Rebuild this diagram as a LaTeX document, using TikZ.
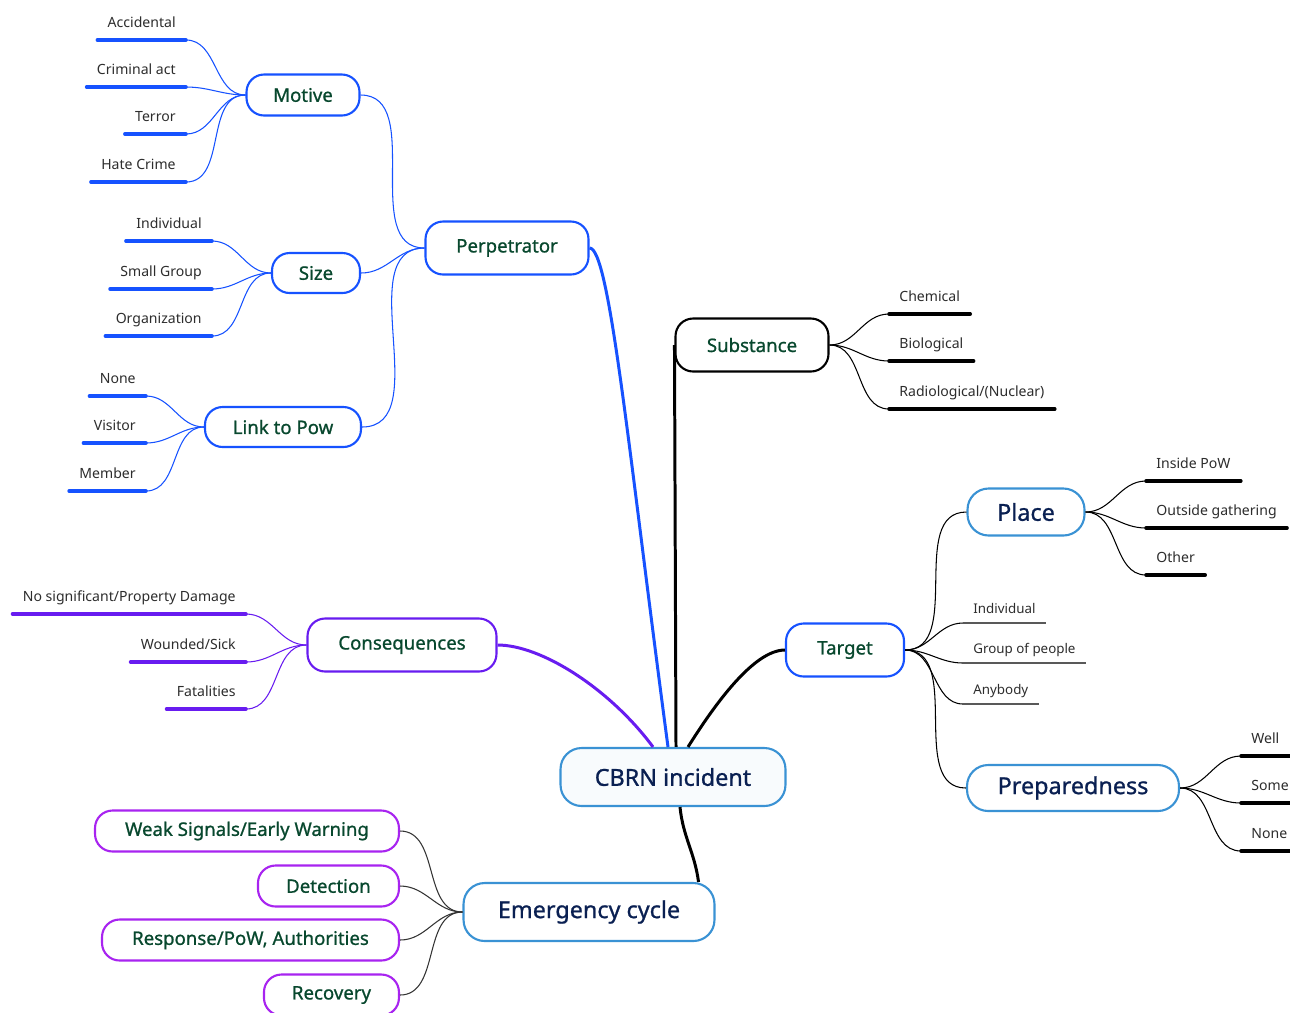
\documentclass[tikz,border=0pt]{standalone}
\usepackage{fontspec}
\setmainfont{Noto Sans}
\newfontfamily\topicfont{Noto Sans}[FakeBold=0.9]
\usepackage{xcolor}
\usepackage{tikz}
\usetikzlibrary{calc}

\definecolor{mmblue}{RGB}{22,82,255}
\definecolor{mmpurple}{RGB}{104,28,240}
\definecolor{mmviolet}{RGB}{168,36,240}
\definecolor{mmsky}{RGB}{58,146,212}
\definecolor{mmgreen}{RGB}{8,72,46}
\definecolor{mmnavy}{RGB}{10,32,82}
\definecolor{mmtext}{RGB}{45,45,45}
\definecolor{mmpale}{RGB}{248,251,253}

\begin{document}
\begin{tikzpicture}[x=0.02cm, y=0.02cm,
        topic/.style={rectangle, draw, rounded corners=10pt, line width=1.2pt, fill=white, text=mmgreen, font=\topicfont\fontsize{10.6}{12}\selectfont, inner sep=0pt},
        major/.style={topic, draw=mmsky, text=mmnavy, rounded corners=12pt, font=\topicfont\fontsize{13.3}{15}\selectfont},
        phase/.style={topic, draw=mmviolet, anchor=east, minimum height=0.82cm},
        leaf/.style={inner xsep=5.7pt, inner ysep=0pt, text depth=7pt, text=mmtext, font=\fontsize{8}{10}\selectfont},
        tleaf/.style={leaf, anchor=south west, text depth=5pt, font=\fontsize{7.6}{9}\selectfont},
        main/.style={line width=1.7pt},
        twig/.style={line width=0.6pt},
        under/.style={line width=2pt, line cap=round},
        hair/.style={line width=0.7pt, draw=black!65}
    ]
        \path[use as bounding box, fill=white] (0,0) rectangle (1290,-1012);

        % Central topic
        \node[major, fill=mmpale, minimum width=4.5cm, minimum height=1.16cm] (cbrn) at (673,-777) {CBRN incident};

        % Main branches
        \node[topic, draw=mmblue, minimum width=3.26cm, minimum height=1.06cm] (perp) at (507,-248) {Perpetrator};
        \node[topic, draw=black, minimum width=3.06cm, minimum height=1.06cm] (subst) at (752,-345) {Substance};
        \node[topic, draw=mmblue, minimum width=2.36cm, minimum height=1.06cm] (target) at (845,-650) {Target};
        \node[topic, draw=mmpurple, minimum width=3.78cm, minimum height=1.06cm] (conseq) at (402,-645) {Consequences};
        \node[major, minimum width=5.02cm, minimum height=1.16cm] (emerg) at (589,-912) {Emergency cycle};

        % Sub topics
        \node[topic, draw=mmblue, minimum width=2.26cm, minimum height=0.82cm] (motive) at (303,-95) {Motive};
        \node[topic, draw=mmblue, minimum width=1.76cm, minimum height=0.8cm] (size) at (316,-273) {Size};
        \node[topic, draw=mmblue, minimum width=3.12cm, minimum height=0.8cm] (link) at (283,-427) {Link to Pow};
        \node[major, minimum width=2.34cm, minimum height=0.94cm] (place) at (1026,-512) {Place};
        \node[major, minimum width=4.24cm, minimum height=0.92cm] (prep) at (1073,-788) {Preparedness};
        \node[phase, minimum width=6.08cm] (weak) at (400,-831) {Weak Signals/Early Warning};
        \node[phase, minimum width=2.82cm] (detect) at (400,-886) {Detection};
        \node[phase, minimum width=5.94cm] (resp) at (400,-940) {Response/PoW, Authorities};
        \node[phase, minimum width=2.7cm] (recov) at (400,-995) {Recovery};

        % Main connectors
        \draw[main, mmblue] (perp.east) .. controls +(20,0) and +(-40,300) .. ($(cbrn.north)+(-5,0)$);
        \draw[main, black] (subst.west) -- ($(cbrn.north)+(3,0)$);
        \draw[main, black] (target.west) .. controls +(-31,0) and +(27,43) .. ($(cbrn.north)+(15,0)$);
        \draw[main, mmpurple] (conseq.east) .. controls +(44,0) and +(-43,58) .. ($(cbrn.north)+(-20,0)$);
        \draw[main, black] ($(cbrn.south)+(7,0)$) .. controls +(3,-30) and +(-4,30) .. ($(emerg.north east)+(-17,0)$);

        % Perpetrator
        \draw[twig, mmblue] (perp.west) to[out=180,in=0] (motive.east);
        \draw[twig, mmblue] (perp.west) to[out=180,in=0] (size.east);
        \draw[twig, mmblue] (perp.west) to[out=180,in=0] (link.east);

        \node[leaf, anchor=south east] (acc) at (186,-40) {Accidental};
        \draw[twig, mmblue] (motive.west) to[out=180,in=0] (acc.south east) edge[under] (acc.south west);
        \node[leaf, anchor=south east] (crim) at (186,-87) {Criminal act};
        \draw[twig, mmblue] (motive.west) to[out=180,in=0] (crim.south east) edge[under] (crim.south west);
        \node[leaf, anchor=south east] (terr) at (186,-134) {Terror};
        \draw[twig, mmblue] (motive.west) to[out=180,in=0] (terr.south east) edge[under] (terr.south west);
        \node[leaf, anchor=south east] (hate) at (186,-182) {Hate Crime};
        \draw[twig, mmblue] (motive.west) to[out=180,in=0] (hate.south east) edge[under] (hate.south west);

        \node[leaf, anchor=south east] (indiv) at (212,-241) {Individual};
        \draw[twig, mmblue] (size.west) to[out=180,in=0] (indiv.south east) edge[under] (indiv.south west);
        \node[leaf, anchor=south east] (small) at (212,-289) {Small Group};
        \draw[twig, mmblue] (size.west) to[out=180,in=0] (small.south east) edge[under] (small.south west);
        \node[leaf, anchor=south east] (org) at (212,-336) {Organization};
        \draw[twig, mmblue] (size.west) to[out=180,in=0] (org.south east) edge[under] (org.south west);

        \node[leaf, anchor=south east] (lnone) at (146,-396) {None};
        \draw[twig, mmblue] (link.west) to[out=180,in=0] (lnone.south east) edge[under] (lnone.south west);
        \node[leaf, anchor=south east] (visit) at (146,-443) {Visitor};
        \draw[twig, mmblue] (link.west) to[out=180,in=0] (visit.south east) edge[under] (visit.south west);
        \node[leaf, anchor=south east] (memb) at (146,-491) {Member};
        \draw[twig, mmblue] (link.west) to[out=180,in=0] (memb.south east) edge[under] (memb.south west);

        % Consequences
        \node[leaf, anchor=south east] (nosig) at (246,-614) {No significant/Property Damage};
        \draw[twig, mmpurple] (conseq.west) to[out=180,in=0] (nosig.south east) edge[under] (nosig.south west);
        \node[leaf, anchor=south east] (wound) at (246,-662) {Wounded/Sick};
        \draw[twig, mmpurple] (conseq.west) to[out=180,in=0] (wound.south east) edge[under] (wound.south west);
        \node[leaf, anchor=south east] (fatal) at (246,-709) {Fatalities};
        \draw[twig, mmpurple] (conseq.west) to[out=180,in=0] (fatal.south east) edge[under] (fatal.south west);

        % Substance
        \node[leaf, anchor=south west] (chem) at (889,-314) {Chemical};
        \draw[twig] (subst.east) to[out=0,in=180] (chem.south west) edge[under] (chem.south east);
        \node[leaf, anchor=south west] (bio) at (889,-361) {Biological};
        \draw[twig] (subst.east) to[out=0,in=180] (bio.south west) edge[under] (bio.south east);
        \node[leaf, anchor=south west] (rad) at (889,-409) {Radiological/(Nuclear)};
        \draw[twig] (subst.east) to[out=0,in=180] (rad.south west) edge[under] (rad.south east);

        % Target
        \draw[twig] (target.east) to[out=0,in=180] (place.west);
        \draw[twig] (target.east) to[out=0,in=180] (prep.west);

        \node[tleaf] (tind) at (963,-623) {Individual};
        \draw[twig] (target.east) to[out=0,in=180] (tind.south west) edge[hair] (tind.south east);
        \node[tleaf] (tgrp) at (963,-663) {Group of people};
        \draw[twig] (target.east) to[out=0,in=180] (tgrp.south west) edge[hair] (tgrp.south east);
        \node[tleaf] (tany) at (963,-704) {Anybody};
        \draw[twig] (target.east) to[out=0,in=180] (tany.south west) edge[hair] (tany.south east);

        \node[leaf, anchor=south west] (inpow) at (1146,-481) {Inside PoW};
        \draw[twig] (place.east) to[out=0,in=180] (inpow.south west) edge[under] (inpow.south east);
        \node[leaf, anchor=south west] (outg) at (1146,-528) {Outside gathering};
        \draw[twig] (place.east) to[out=0,in=180] (outg.south west) edge[under] (outg.south east);
        \node[leaf, anchor=south west] (other) at (1146,-575) {Other};
        \draw[twig] (place.east) to[out=0,in=180] (other.south west) edge[under] (other.south east);

        \node[leaf, anchor=south west] (well) at (1241,-756) {Well};
        \draw[twig] (prep.east) to[out=0,in=180] (well.south west) edge[under] (well.south east);
        \node[leaf, anchor=south west] (some) at (1241,-803) {Some};
        \draw[twig] (prep.east) to[out=0,in=180] (some.south west) edge[under] (some.south east);
        \node[leaf, anchor=south west] (pnone) at (1241,-851) {None};
        \draw[twig] (prep.east) to[out=0,in=180] (pnone.south west) edge[under] (pnone.south east);

        % Emergency cycle
        \draw[twig, black!80] (emerg.west) to[out=180,in=0] (weak.east);
        \draw[twig, black!80] (emerg.west) to[out=180,in=0] (detect.east);
        \draw[twig, black!80] (emerg.west) to[out=180,in=0] (resp.east);
        \draw[twig, black!80] (emerg.west) to[out=180,in=0] (recov.east);

    \end{tikzpicture}
\end{document}
